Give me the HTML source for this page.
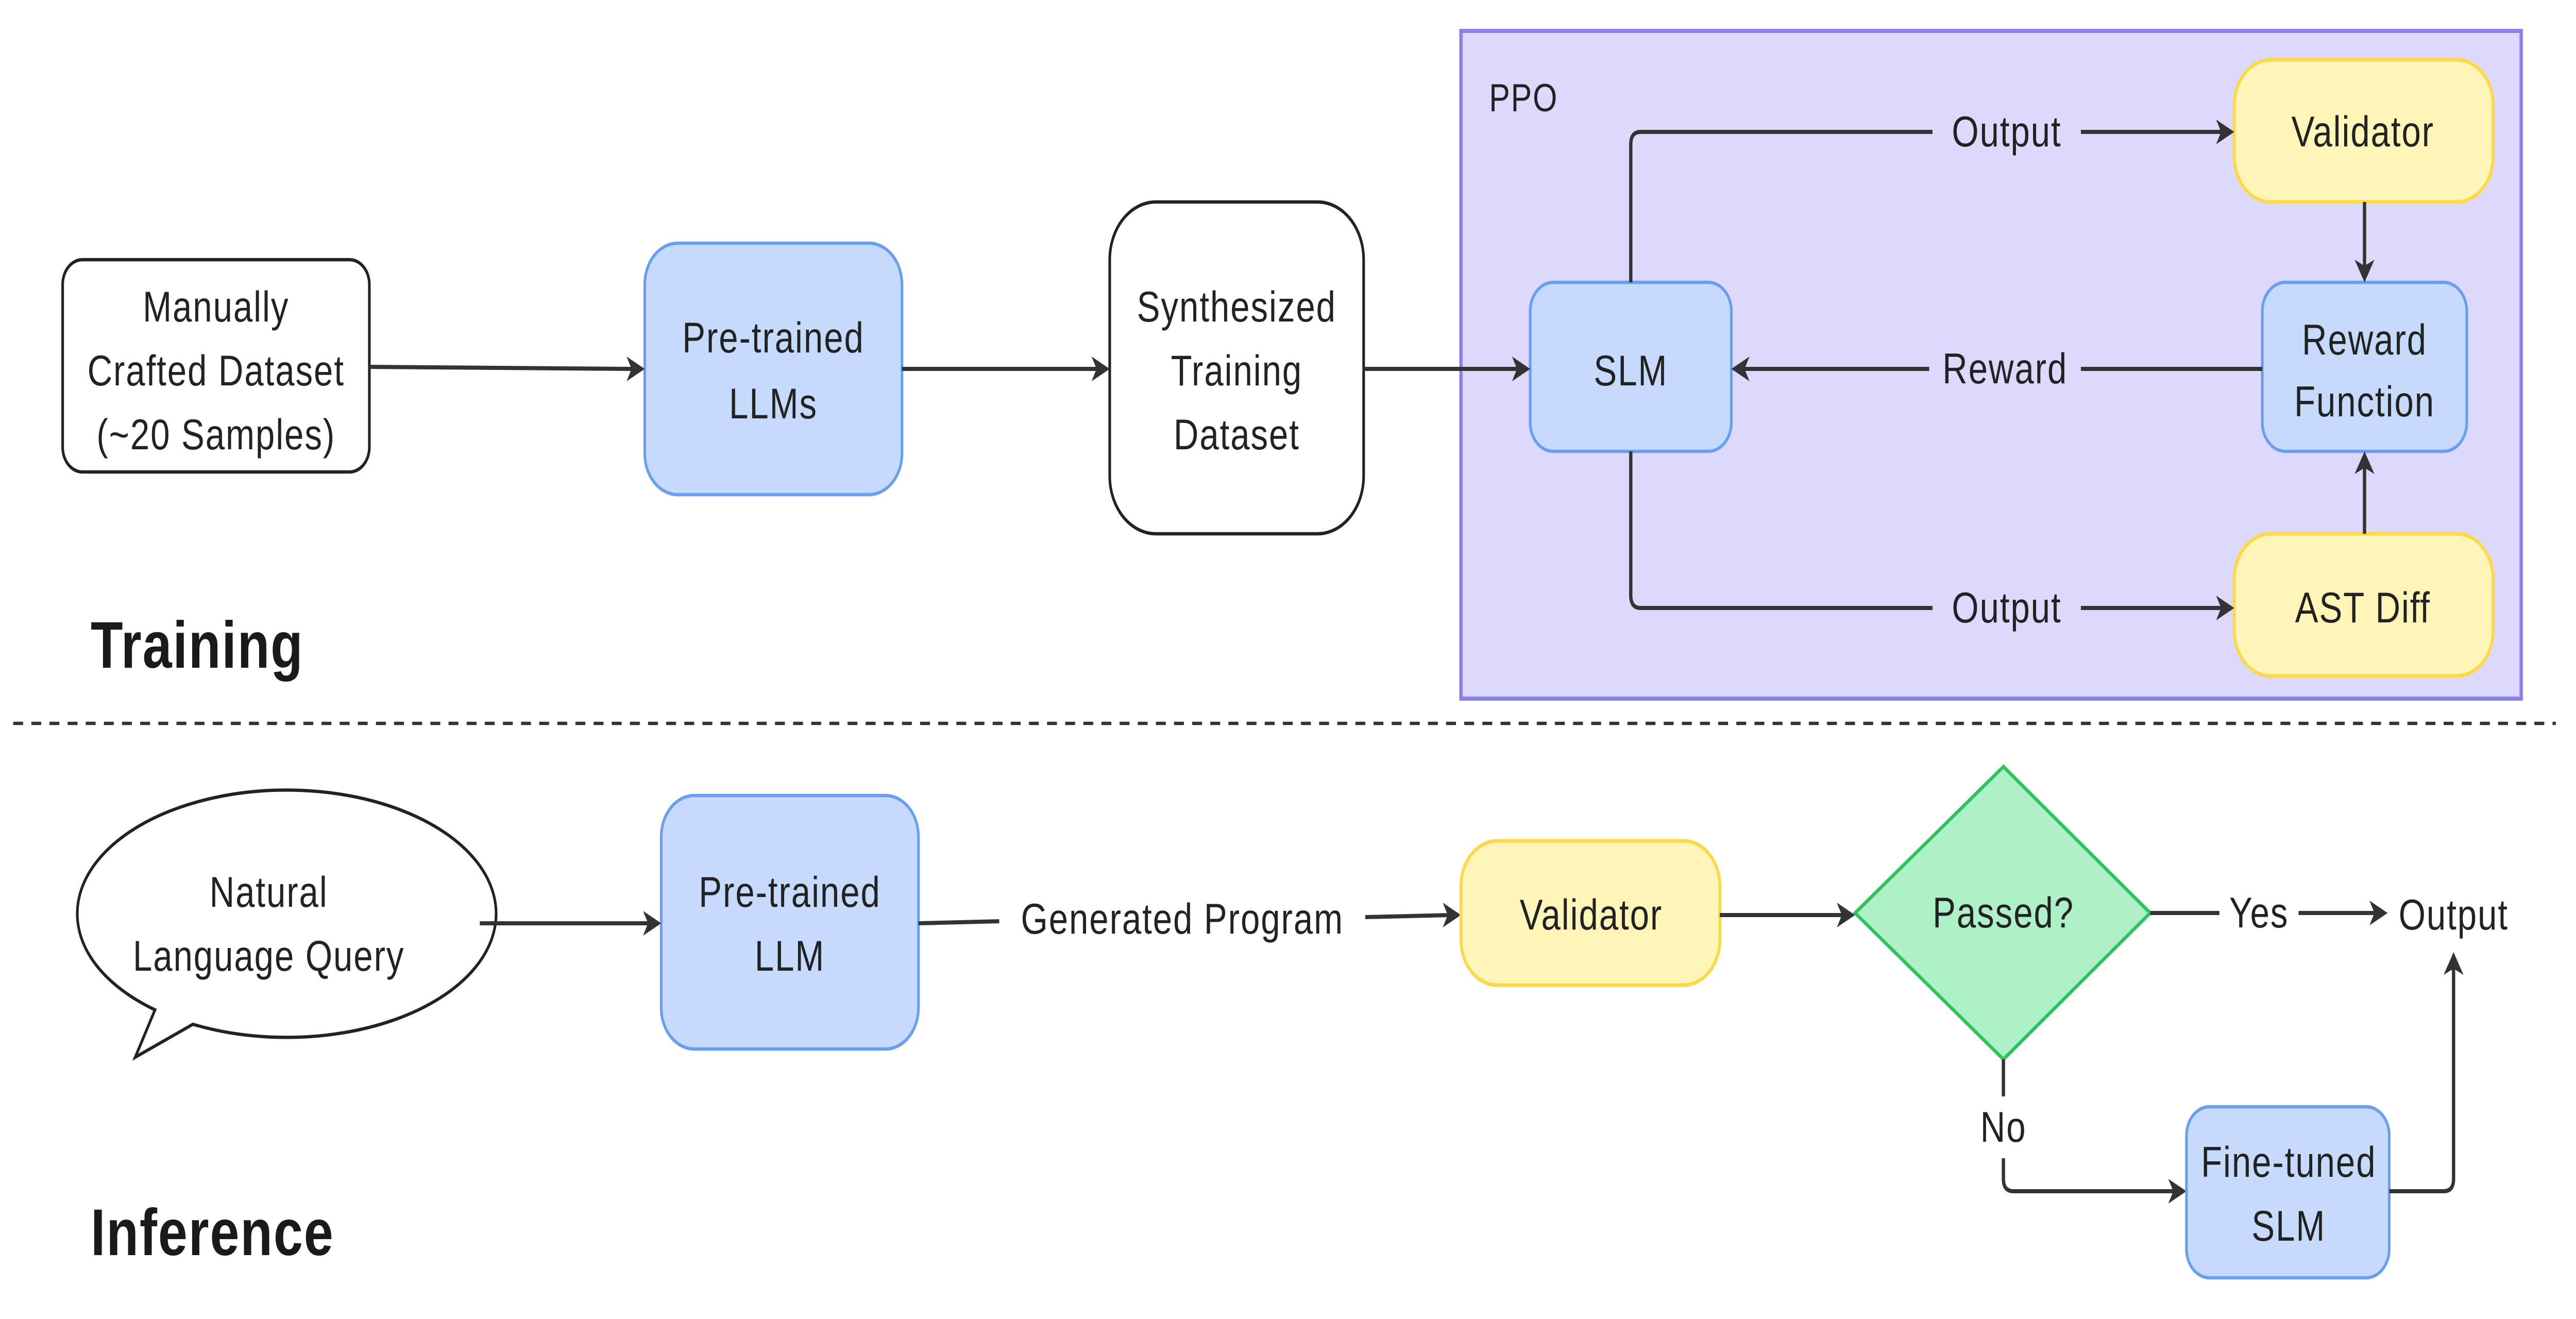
<!DOCTYPE html>
<html><head><meta charset="utf-8"><style>html,body{margin:0;padding:0;background:#fff;width:100%;height:100%;overflow:hidden}svg{display:block;width:100vw;height:100vh}</style></head>
<body>
<svg viewBox="0 0 1562.25 640" preserveAspectRatio="none" xmlns="http://www.w3.org/2000/svg" font-family="'Liberation Sans', 'DejaVu Sans', sans-serif" font-size="21" fill="#222">
<style>
.ln{stroke:#333;stroke-width:2;fill:none}
.ah{fill:#333}
text{text-anchor:middle;letter-spacing:0.6px}
</style>
<rect x="886" y="15" width="643" height="324" fill="#dcd9fd" stroke="#8b7fe8" stroke-width="2"/>
<text x="924" y="54" font-size="19">PPO</text>

<rect x="38" y="126" width="186" height="103" rx="12" fill="#fff" stroke="#222" stroke-width="1.6"/>
<text x="131" y="156">Manually</text><text x="131" y="187">Crafted Dataset</text><text x="131" y="218">(~20 Samples)</text>

<rect x="391" y="118" width="156" height="122" rx="20" fill="#c6dbfc" stroke="#6a9ef0" stroke-width="1.6"/>
<text x="469" y="171">Pre-trained</text><text x="469" y="203">LLMs</text>

<rect x="673" y="98" width="154" height="161" rx="28" fill="#fff" stroke="#222" stroke-width="1.6"/>
<text x="750" y="156">Synthesized</text><text x="750" y="187">Training</text><text x="750" y="218">Dataset</text>

<rect x="928" y="137" width="122" height="82" rx="14" fill="#c6dbfc" stroke="#6a9ef0" stroke-width="1.6"/>
<text x="989" y="187">SLM</text>

<rect x="1355" y="29" width="157" height="69" rx="22" fill="#fff5b8" stroke="#fcd94a" stroke-width="1.8"/>
<text x="1433" y="71">Validator</text>

<rect x="1372" y="137" width="124" height="82" rx="14" fill="#c6dbfc" stroke="#6a9ef0" stroke-width="1.6"/>
<text x="1434" y="172">Reward</text><text x="1434" y="202">Function</text>

<rect x="1355" y="259" width="157" height="69" rx="22" fill="#fff5b8" stroke="#fcd94a" stroke-width="1.8"/>
<text x="1433" y="302">AST Diff</text>

<path class="ln" d="M224 178 L384 179"/><path class="ah" d="M391 179 l-11 -6 l3 6 l-3 6z"/>
<path class="ln" d="M547 179 L666 179"/><path class="ah" d="M673 179 l-11 -6 l3 6 l-3 6z"/>
<path class="ln" d="M827 179 L921 179"/><path class="ah" d="M928 179 l-11 -6 l3 6 l-3 6z"/>
<path class="ln" d="M989 137 L989 70 Q989 64 995 64 L1172 64 M1262 64 L1348 64"/><path class="ah" d="M1355 64 l-11 -6 l3 6 l-3 6z"/>
<text x="1217" y="71">Output</text>
<path class="ln" d="M1372 179 L1262 179 M1170 179 L1057 179"/><path class="ah" d="M1050 179 l11 -6 l-3 6 l3 6z"/>
<text x="1216" y="186">Reward</text>
<path class="ln" d="M989 219 L989 289 Q989 295 995 295 L1172 295 M1262 295 L1348 295"/><path class="ah" d="M1355 295 l-11 -6 l3 6 l-3 6z"/>
<text x="1217" y="302">Output</text>
<path class="ln" d="M1434 98 L1434 130"/><path class="ah" d="M1434 137 l-6 -11 l6 3 l6 -3z"/>
<path class="ln" d="M1434 259 L1434 226"/><path class="ah" d="M1434 219 l-6 11 l6 -3 l6 3z"/>

<text x="55" y="324" font-size="32" font-weight="bold" style="text-anchor:start" fill="#1a1a1a">Training</text>

<line x1="8" y1="351" x2="1550" y2="351" stroke="#333" stroke-width="1.6" stroke-dasharray="6,5"/>

<path d="M94 490 A127 60 0 1 1 117 497 L82 513 Z" fill="#fff" stroke="#222" stroke-width="1.6"/>
<text x="163" y="440">Natural</text><text x="163" y="471">Language Query</text>

<rect x="401" y="386" width="156" height="123" rx="20" fill="#c6dbfc" stroke="#6a9ef0" stroke-width="1.6"/>
<text x="479" y="440">Pre-trained</text><text x="479" y="471">LLM</text>

<path class="ln" d="M291 448 L394 448"/><path class="ah" d="M401 448 l-11 -6 l3 6 l-3 6z"/>
<path class="ln" d="M557 448 L606 447 M828 445 L879 444"/><path class="ah" d="M886 444 l-11 -6 l3 6 l-3 6z"/>
<text x="717" y="453">Generated Program</text>

<rect x="886" y="408" width="157" height="70" rx="22" fill="#fff5b8" stroke="#fcd94a" stroke-width="1.8"/>
<text x="965" y="451">Validator</text>

<path class="ln" d="M1043 444 L1118 444"/><path class="ah" d="M1125 444 l-11 -6 l3 6 l-3 6z"/>

<path d="M1215 372 L1304 443 L1215 514 L1125 443 Z" fill="#aef0c8" stroke="#2fc35a" stroke-width="1.8"/>
<text x="1215" y="450">Passed?</text>

<path class="ln" d="M1304 443 L1346 443 M1394 443 L1441 443"/><path class="ah" d="M1448 443 l-11 -6 l3 6 l-3 6z"/>
<text x="1370" y="450">Yes</text>
<text x="1488" y="451">Output</text>

<path class="ln" d="M1215 514 L1215 532 M1215 562 L1215 572 Q1215 578 1221 578 L1319 578"/><path class="ah" d="M1326 578 l-11 -6 l3 6 l-3 6z"/>
<text x="1215" y="554">No</text>

<rect x="1326" y="537" width="123" height="83" rx="14" fill="#c6dbfc" stroke="#6a9ef0" stroke-width="1.6"/>
<text x="1388" y="571">Fine-tuned</text><text x="1388" y="602">SLM</text>

<path class="ln" d="M1449 578 L1482 578 Q1488 578 1488 572 L1488 469"/><path class="ah" d="M1488 462 l-6 11 l6 -3 l6 3z"/>

<text x="55" y="609" font-size="32" font-weight="bold" style="text-anchor:start" fill="#1a1a1a">Inference</text>
</svg>
</body></html>
